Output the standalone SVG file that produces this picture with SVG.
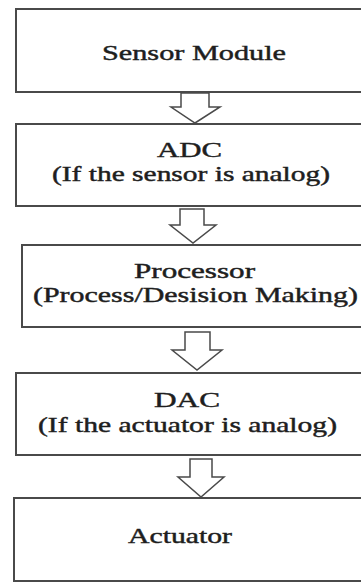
<svg xmlns="http://www.w3.org/2000/svg" width="361" height="583" viewBox="0 0 361 583">
<style>
.box{fill:#fff;stroke:#4a4a4a;stroke-width:2}
.arr{fill:#fff;stroke:#4a4a4a;stroke-width:1.5;stroke-linejoin:miter}
.t{font-family:"Liberation Serif","Times New Roman",serif;font-size:22px;fill:#1e1e1e;stroke:#1e1e1e;stroke-width:0.45}
</style>
<rect width="361" height="583" fill="#fff"/>
<g id="sensor">
<rect class="box" x="16" y="9" width="360" height="83"/>
<text class="t" x="102" y="60" textLength="184" lengthAdjust="spacingAndGlyphs">Sensor Module</text>
</g>
<g id="adc">
<rect class="box" x="16" y="124" width="360" height="82"/>
<text class="t" x="157" y="157" textLength="65" lengthAdjust="spacingAndGlyphs">ADC</text>
<text class="t" x="52" y="181" textLength="278" lengthAdjust="spacingAndGlyphs">(If the sensor is analog)</text>
</g>
<g id="processor">
<rect class="box" x="22" y="245" width="360" height="82"/>
<text class="t" x="134" y="278" textLength="121" lengthAdjust="spacingAndGlyphs">Processor</text>
<text class="t" x="33" y="302" textLength="325" lengthAdjust="spacingAndGlyphs">(Process/Desision Making)</text>
</g>
<g id="dac">
<rect class="box" x="16" y="373" width="360" height="82"/>
<text class="t" x="154" y="407" textLength="66" lengthAdjust="spacingAndGlyphs">DAC</text>
<text class="t" x="38" y="432" textLength="299" lengthAdjust="spacingAndGlyphs">(If the actuator is analog)</text>
</g>
<g id="actuator">
<rect class="box" x="14" y="498" width="360" height="83"/>
<text class="t" x="128" y="543" textLength="104" lengthAdjust="spacingAndGlyphs">Actuator</text>
</g>
<g id="connectors">
<polygon class="arr" points="181,93 209,93 209,107 220,107 195,123 171,107 181,107"/>
<polygon class="arr" points="180,209 204,209 204,225 216,225 193,243 170,225 180,225"/>
<polygon class="arr" points="185,332 210,332 210,350 222,350 197,370 172,350 185,350"/>
<polygon class="arr" points="190,459 212,459 212,477 224,477 201,497 178,477 190,477"/>
</g>
</svg>
